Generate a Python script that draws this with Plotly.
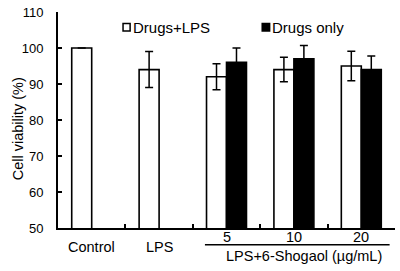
import plotly.graph_objects as go

categories = ["Control", "LPS", "5", "10", "20"]
tick_labels_top = ["Control", "LPS"]
dose_labels = ["5", "10", "20"]
drugs_lps = [100, 94, 92, 94, 95]
drugs_lps_err = [0, 5, 3.6, 3.4, 4.1]
drugs_only = [None, None, 96, 97, 94]
drugs_only_err = [0, 0, 4, 3.7, 3.8]
series_names = ["Drugs+LPS", "Drugs only"]
group_title = "LPS+6-Shogaol (µg/mL)"
y_title = "Cell viability (%)"
y_ticks = [50, 60, 70, 80, 90, 100, 110]

FONT = "Liberation Sans, Arial, sans-serif"

fig = go.Figure()
fig.add_trace(go.Bar(
    x=categories, y=drugs_lps, name=series_names[0],
    marker=dict(color="white", line=dict(color="black", width=1.6)),
    error_y=dict(type="data", array=drugs_lps_err, color="black", thickness=1.5, width=4),
))
fig.add_trace(go.Bar(
    x=categories, y=drugs_only, name=series_names[1],
    marker=dict(color="black", line=dict(color="black", width=1.6)),
    error_y=dict(type="data", array=drugs_only_err, color="black", thickness=1.5, width=4),
))

annotations = []
for lab in tick_labels_top:
    annotations.append(dict(x=categories.index(lab), y=0, xref="x", yref="paper", text=lab, showarrow=False,
                            yshift=-19, yanchor="middle", font=dict(size=14.5, color="black", family=FONT)))
for lab in dose_labels:
    annotations.append(dict(x=categories.index(lab), y=0, xref="x", yref="paper", text=lab, showarrow=False,
                            yshift=-9, yanchor="middle", font=dict(size=14.5, color="black", family=FONT)))
annotations.append(dict(x=3.15, y=0, xref="x", yref="paper", text=group_title, showarrow=False,
                        yshift=-28, yanchor="middle", font=dict(size=14.5, color="black", family=FONT)))
annotations.append(dict(x=0, y=0.457, xref="paper", yref="paper", text=y_title, showarrow=False,
                        xshift=-40, textangle=-90, xanchor="center", yanchor="middle",
                        font=dict(size=14.5, color="black", family=FONT)))
# legend texts
annotations.append(dict(x=0.216, y=0.93, xref="paper", yref="paper", text=series_names[0], showarrow=False,
                        xanchor="left", yanchor="middle", font=dict(size=15, color="black", family=FONT)))
annotations.append(dict(x=0.630, y=0.93, xref="paper", yref="paper", text=series_names[1], showarrow=False,
                        xanchor="left", yanchor="middle", font=dict(size=15, color="black", family=FONT)))

shapes = [
    dict(type="line", xref="x", yref="paper", x0=1.68, x1=4.42, y0=-0.077, y1=-0.077,
         line=dict(color="black", width=1.5)),
    dict(type="rect", xref="paper", yref="paper", x0=0.193, x1=0.214, y0=0.912, y1=0.947,
         line=dict(color="black", width=1.5), fillcolor="white"),
    dict(type="rect", xref="paper", yref="paper", x0=0.606, x1=0.628, y0=0.912, y1=0.947,
         line=dict(color="black", width=1.5), fillcolor="black"),
]

fig.update_layout(
    width=400, height=271,
    margin=dict(l=58, r=5, t=7, b=43),
    paper_bgcolor="white", plot_bgcolor="white",
    barmode="group", bargap=0.407, bargroupgap=0,
    showlegend=False,
    font=dict(family=FONT, color="black", size=13),
    annotations=annotations, shapes=shapes,
)
fig.update_xaxes(type="category", showticklabels=False, tickson="boundaries", ticks="inside",
                 ticklen=4, tickwidth=1.5, tickcolor="black", showline=True, linecolor="black",
                 linewidth=1.8, showgrid=False, range=[-0.5, 4.5])
fig.update_yaxes(range=[50, 110], tickvals=y_ticks, ticks="inside", ticklen=4, tickwidth=1.5,
                 tickcolor="black", showline=True, linecolor="black", linewidth=1.8, showgrid=False,
                 zeroline=False, tickfont=dict(size=13, color="black", family=FONT), ticklabelstandoff=10,
                 ticklabeloverflow="allow")

fig.write_html("out.html", config={"displayModeBar": False},
               post_script="document.body.style.margin='0';document.body.style.padding='0';")
